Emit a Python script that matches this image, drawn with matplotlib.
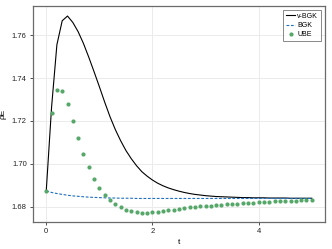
import numpy as np
import matplotlib
matplotlib.use("Agg")
import matplotlib.pyplot as plt

plt.rcParams['font.family'] = ['Liberation Sans', 'DejaVu Sans']

# time points 0, 0.1, ..., 5
t = np.round(np.arange(51) * 0.1, 1)

v_bgk = [1.6875, 1.7265, 1.7556, 1.7668, 1.7690, 1.7660, 1.7617, 1.7562, 1.7498, 1.7430,
         1.7360, 1.7288, 1.7220, 1.7160, 1.7108, 1.7062, 1.7024, 1.6991, 1.6963, 1.6942,
         1.6924, 1.6909, 1.6897, 1.6887, 1.6879, 1.6872, 1.6866, 1.6861, 1.6857, 1.6854,
         1.6851, 1.6849, 1.6847, 1.6846, 1.6845, 1.6844, 1.6843, 1.6842, 1.6842, 1.6841,
         1.6841, 1.6841, 1.6840, 1.6840, 1.6840, 1.6840, 1.6839, 1.6839, 1.6839, 1.6839,
         1.6839]

bgk = [1.6873, 1.6866, 1.6861, 1.6857, 1.6853, 1.6850, 1.6848, 1.6846, 1.6844, 1.6843,
       1.6842, 1.6841, 1.6840, 1.6840, 1.6839, 1.6839, 1.6839, 1.6838, 1.6838, 1.6838,
       1.6838, 1.6838, 1.6838, 1.6838, 1.6838, 1.6838, 1.6838, 1.6838, 1.6838, 1.6838,
       1.6838, 1.6838, 1.6838, 1.6838, 1.6838, 1.6838, 1.6838, 1.6838, 1.6838, 1.6838,
       1.6838, 1.6838, 1.6838, 1.6838, 1.6838, 1.6838, 1.6838, 1.6838, 1.6838, 1.6838,
       1.6838]

ube = [1.6875, 1.7236, 1.7346, 1.7340, 1.7281, 1.7200, 1.7121, 1.7046, 1.6984, 1.6931,
       1.6889, 1.6856, 1.6831, 1.6811, 1.6796, 1.6785, 1.6778, 1.6774, 1.6772, 1.6772,
       1.6774, 1.6777, 1.6779, 1.6782, 1.6786, 1.6789, 1.6793, 1.6796, 1.6799, 1.6801,
       1.6803, 1.6805, 1.6807, 1.6809, 1.6810, 1.6812, 1.6814, 1.6815, 1.6817, 1.6819,
       1.6821, 1.6822, 1.6823, 1.6824, 1.6825, 1.6826, 1.6827, 1.6828, 1.6829, 1.6830,
       1.6831]

fig = plt.figure(figsize=(3.32, 2.49), dpi=100)
ax = fig.add_axes([0.0994, 0.1084, 0.8796, 0.8676])

ax.plot(t, v_bgk, color='black', lw=0.8, label='v-BGK')
ax.plot(t, bgk, color='#1f6fc5', lw=0.8, ls=(0, (2.5, 1.5)), label='BGK')
ax.plot(t, ube, ls='none', marker='o', ms=3, mew=0, color='#55a868', label='UBE')

ax.set_xlim(-0.25, 5.25)
ax.set_ylim(1.6728, 1.7737)
ax.set_xticks([0, 2, 4])
ax.set_yticks([1.68, 1.70, 1.72, 1.74, 1.76])
ax.set_yticklabels(['1.68', '1.70', '1.72', '1.74', '1.76'])
ax.grid(True, color='#ebebeb', lw=0.7)
ax.set_axisbelow(True)

for s in ax.spines.values():
    s.set_color('#6b6b6b')
    s.set_linewidth(0.9)
ax.tick_params(labelsize=5.5, length=2.5, width=0.6, color='#333333', labelcolor='#222222', pad=2)

ax.set_xlabel('t', fontsize=6, labelpad=3)
ax.set_ylabel('ρE', fontsize=6, labelpad=4)

leg = ax.legend(loc='upper right', fontsize=5, frameon=True, fancybox=False,
                handlelength=1.3, handletextpad=0.3, borderpad=0.4, labelspacing=0.3,
                borderaxespad=0.6)
leg.get_frame().set_edgecolor('#6b6b6b')
leg.get_frame().set_linewidth(0.7)

fig.savefig('out.png', dpi=100)
